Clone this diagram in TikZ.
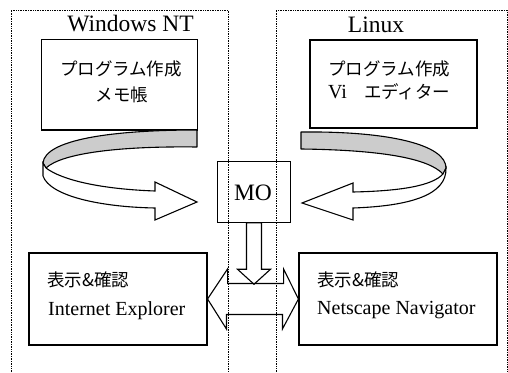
\documentclass[tikz,border=0pt]{standalone}
\usepackage{fontspec}
\setmainfont{Liberation Serif}
\newfontfamily\jpfont{Noto Sans CJK JP}

\tikzset{
  box/.style={draw, line width=1.1pt, inner sep=0pt},
  zone/.style={line width=0.9pt, dash pattern=on 0.8pt off 0.9pt},
  ttl/.style={font=\fontsize{23.5}{26}\selectfont, anchor=base, inner sep=0pt},
  jp/.style={font=\jpfont\fontsize{17.5}{20}\selectfont, anchor=base, inner sep=0pt},
  lat/.style={font=\fontsize{20}{22}\selectfont, anchor=base west, inner sep=0pt},
  blockarrow/.style={draw, line width=1.1pt, line join=miter},
  backside/.style={draw, line width=1.1pt, fill=black!20, line join=round},
  frontside/.style={draw, line width=1.1pt, fill=white, line join=miter}
}

\begin{document}
\begin{tikzpicture}[x=1pt, y=-1pt]
\useasboundingbox (0,0) rectangle (508,372);

% the two machines
\draw[zone] (11,372) -- (11,10) -- (228,10) -- (228,372);
\draw[zone] (276,372) -- (276,10) -- (507,10) -- (507,372);
\node[ttl] (wintitle) at (130.5,31.5) {Windows NT};
\node[ttl] (lintitle) at (376,32) {Linux};

% boxes
\node[box, minimum width=155.5pt, minimum height=90.5pt] (winprog) at (119.5,84.7) {};
\node[box, minimum width=167pt, minimum height=88pt] (linprog) at (393.5,84) {};
\node[box, minimum width=73.5pt, minimum height=61pt] (mo) at (254,191.7) {};
\node[box, minimum width=178pt, minimum height=92pt] (ie) at (118,299) {};
\node[box, minimum width=198pt, minimum height=92pt] (nn) at (398,299) {};

% texts
\node[jp] (wintxta) at (121,75) {プログラム作成};
\node[jp] (wintxtb) at (122,101) {メモ帳};
\node[jp, anchor=base west] (lintxta) at (328,75) {プログラム作成};
\node[lat] (lintxtb) at (328,98) {Vi\hspace{17pt}{\jpfont\fontsize{17.5}{20}\selectfont エディター}};
\node[ttl] (motxt) at (253,200) {MO};
\node[jp, anchor=base west] (ietxta) at (47,286) {表示\&確認};
\node[lat] (ietxtb) at (48,315) {Internet Explorer};
\node[jp, anchor=base west] (nntxta) at (317,286) {表示\&確認};
\node[lat] (nntxtb) at (317,314) {Netscape Navigator};

% left ribbon arrow
\draw[backside] (197,130) .. controls (110,130) and (45,140) .. (43,163)
  -- (46,168) .. controls (62,153) and (120,146) .. (197,147) -- cycle;
\draw[frontside] (43,163) -- (43,176) .. controls (50,196) and (100,207) .. (155,208)
  -- (155,220) -- (197,202) -- (155,182) -- (155,191)
  .. controls (100,189) and (62,180) .. (46,168) -- cycle;

% right ribbon arrow
\draw[backside] (301,132) .. controls (390,131) and (446,145) .. (446,168)
  -- (443,174) .. controls (428,158) and (380,150) .. (301,149) -- cycle;
\draw[frontside] (446,168) .. controls (447,195) and (410,206) .. (353,208)
  -- (353,220) -- (302,203) -- (353,183) -- (353,192)
  .. controls (400,191) and (432,186) .. (443,174) -- cycle;

% MO down, then both ways
\draw[blockarrow] ([xshift=-7.5pt]mo.south) -- ++(0,46.5) -- ++(-9,0) -- ++(16.5,15)
  -- ++(16.5,-15) -- ++(-9,0) -- ++(0,-46.5) -- cycle;
\draw[blockarrow] (ie.east) -- ++(20,-30) -- ++(0,14.5) -- ++(56,0) -- ++(0,-14.5)
  -- (nn.west) -- ++(-16,30) -- ++(0,-14.5) -- ++(-56,0) -- ++(0,14.5) -- cycle;
\end{tikzpicture}
\end{document}
